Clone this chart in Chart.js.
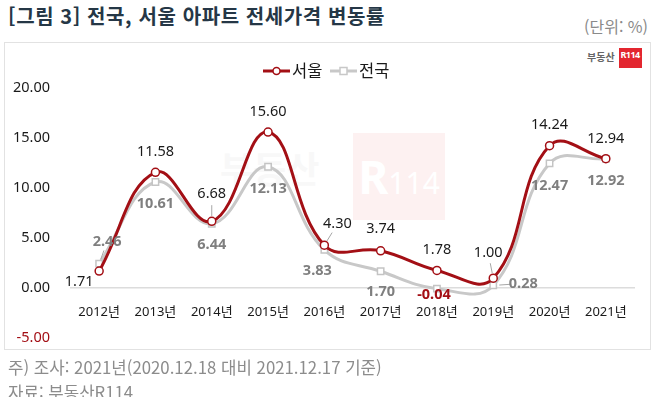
<!DOCTYPE html>
<html lang="ko">
<head>
    <meta charset="UTF-8">
    <script src="https://cdn.jsdelivr.net/npm/chart.js"></script>
    <title>전국, 서울 아파트 전세가격 변동률</title>
    <style>
        body { margin: 0; width: 658px; height: 397px; background: #fff; overflow: hidden;
               font-family: "Noto Sans", "Noto Sans CJK KR", sans-serif; position: relative; }
        .title { position: absolute; left: 8px; top: 1px; font-size: 20px; font-weight: bold; color: #253746;
                 font-family: "Noto Sans CJK KR", sans-serif; letter-spacing: 0.6px; }
        .unit { position: absolute; right: 10px; top: 14px; font-size: 16px; color: #8a8a8a;
                font-family: "Noto Sans CJK KR", sans-serif; }
        .box { position: absolute; left: 4px; top: 42px; width: 645px; height: 306px; border: 1px solid #e2e2e2; }
        .wm { position: absolute; left: 348px; top: 90px; width: 92px; height: 87px; background: #fdf1f1;
              color: #fff; font: bold 46px "Noto Sans", sans-serif; text-align: center; line-height: 87px; }
        .wm span { font-size: 30px; font-weight: normal; }
        .wmtext { position: absolute; left: 215px; top: 98px; font: bold 36px "Noto Sans CJK KR", sans-serif; color: #f8f8f8; }
        .logo { position: absolute; left: 582px; top: 5px; font: bold 10px "Noto Sans CJK KR", sans-serif; color: #666; }
        .logo b { display: inline-block; margin-left: 4px; background: #e3262f; color: #fff; width: 23px; height: 20px;
                  line-height: 20px; text-align: center; font: bold 9px "Noto Sans", sans-serif; letter-spacing: -0.5px;
                  vertical-align: middle; }
        .chartwrap { position: absolute; left: 0; top: 0; width: 645px; height: 317px; }
        .note { position: absolute; left: 8px; font-size: 16.8px; color: #8c8c8c; font-family: "Noto Sans CJK KR", sans-serif; }
    </style>
</head>
<body>
    <div class="title">[그림 3] 전국, 서울 아파트 전세가격 변동률</div>
    <div class="unit">(단위: %)</div>
    <div class="box">
        <div class="wmtext">부동산</div>
        <div class="wm">R<span>114</span></div>
        <div class="logo">부동산<b>R114</b></div>
        <div class="chartwrap"><canvas id="rentChart" width="645" height="317"></canvas></div>
    </div>
    <div class="note" style="top: 355px;">주) 조사: 2021년(2020.12.18 대비 2021.12.17 기준)</div>
    <div class="note" style="top: 380px;">자료: 부동산R114</div>

    <script>
        const years = ["2012년", "2013년", "2014년", "2015년", "2016년", "2017년", "2018년", "2019년", "2020년", "2021년"];
        const seoul = [1.71, 11.58, 6.68, 15.60, 4.30, 3.74, 1.78, 1.00, 14.24, 12.94];
        const national = [2.46, 10.61, 6.44, 12.13, 3.83, 1.70, -0.04, 0.28, 12.47, 12.92];
        const yTicks = [-5, 0, 5, 10, 15, 20];

        // label offsets from each point: [dx, dy, leader line]
        const seoulLabelPos = [[-20, 11, false], [0, -20, false], [0, -27, true], [0, -20, false], [13, -21, true],
                               [0, -22, false], [0, -21, false], [-5, -25, true], [0, -21, false], [0, -20, false]];
        const nationalLabelPos = [[8, -22, true], [0, 22, false], [0, 21, false], [0, 22, false], [-7, 21, false],
                                  [0, 21, false], [-3, 6, false], [30, -2, true], [0, 22, false], [0, 22, false]];

        const RED = "#a30f15";
        const GRAY = "#c8c8c8";

        const pointLabels = {
            id: "pointLabels",
            afterDatasetsDraw(chart) {
                const ctx = chart.ctx;
                const settings = [
                    { pos: seoulLabelPos, values: seoul, font: "14.5px 'Noto Sans', sans-serif", color: "#1a1a1a" },
                    { pos: nationalLabelPos, values: national, font: "bold 14.5px 'Noto Sans', sans-serif", color: "#7f7f7f" }
                ];
                ctx.save();
                ctx.textAlign = "center";
                ctx.textBaseline = "middle";
                settings.forEach((s, di) => {
                    const meta = chart.getDatasetMeta(di);
                    meta.data.forEach((pt, i) => {
                        const [dx, dy, leader] = s.pos[i];
                        if (leader) {
                            ctx.strokeStyle = "#a6a6a6";
                            ctx.lineWidth = 1;
                            ctx.beginPath();
                            ctx.moveTo(pt.x + dx * 0.2, pt.y + dy * 0.2);
                            ctx.lineTo(pt.x + dx * 0.6, pt.y + dy * 0.6);
                            ctx.stroke();
                        }
                        const v = s.values[i];
                        ctx.font = s.font;
                        ctx.fillStyle = v < 0 ? RED : s.color;
                        ctx.fillText(v.toFixed(2), pt.x + dx, pt.y + dy);
                    });
                });
                ctx.restore();
            }
        };

        const customLegend = {
            id: "customLegend",
            afterDraw(chart) {
                const ctx = chart.ctx;
                const items = [
                    { text: "서울", color: RED, x: 258, round: true },
                    { text: "전국", color: GRAY, x: 325, round: false }
                ];
                const y = 28;
                ctx.save();
                items.forEach((it) => {
                    ctx.strokeStyle = it.color;
                    ctx.lineWidth = 3;
                    ctx.beginPath();
                    ctx.moveTo(it.x, y);
                    ctx.lineTo(it.x + 27, y);
                    ctx.stroke();
                    ctx.fillStyle = "#fff";
                    ctx.lineWidth = 1.5;
                    ctx.beginPath();
                    if (it.round) {
                        ctx.arc(it.x + 13.5, y, 3.5, 0, Math.PI * 2);
                    } else {
                        ctx.rect(it.x + 10, y - 3.5, 7, 7);
                    }
                    ctx.fill();
                    ctx.stroke();
                    ctx.fillStyle = "#1a1a1a";
                    ctx.font = "16.5px 'Noto Sans CJK KR', sans-serif";
                    ctx.textBaseline = "middle";
                    ctx.fillText(it.text, it.x + 29, y);
                });
                ctx.restore();
            }
        };

        const ctx = document.getElementById("rentChart").getContext("2d");
        new Chart(ctx, {
            type: "line",
            data: {
                labels: years,
                datasets: [
                    {
                        label: "서울",
                        data: seoul,
                        borderColor: RED,
                        borderWidth: 3,
                        pointStyle: "circle",
                        pointRadius: 4,
                        pointBorderWidth: 1.5,
                        pointBackgroundColor: "#fff",
                        pointBorderColor: RED,
                        tension: 0.42
                    },
                    {
                        label: "전국",
                        data: national,
                        borderColor: GRAY,
                        borderWidth: 3,
                        pointStyle: "rect",
                        pointRadius: 4.5,
                        pointBorderWidth: 1.5,
                        pointBackgroundColor: "#fff",
                        pointBorderColor: "#c4c4c4",
                        tension: 0.42
                    }
                ]
            },
            options: {
                responsive: false,
                animation: false,
                events: [],
                layout: { padding: { top: 45, right: 16, bottom: 1, left: 0 } },
                plugins: {
                    legend: { display: false },
                    tooltip: { enabled: false }
                },
                scales: {
                    x: {
                        position: { y: 0 },
                        offset: true,
                        grid: { display: false },
                        border: { color: "#dcdcdc", width: 1.5 },
                        ticks: {
                            padding: 8,
                            color: "#1a1a1a",
                            font: { family: "'Noto Sans', 'Noto Sans CJK KR', sans-serif", size: 13 },
                            maxRotation: 0
                        },
                        afterFit(scale) { scale.height = 0; }
                    },
                    y: {
                        min: -5,
                        max: 20,
                        grid: { display: false },
                        border: { display: false },
                        afterBuildTicks(scale) { scale.ticks = yTicks.map((v) => ({ value: v })); },
                        afterFit(scale) { scale.width = 66; },
                        ticks: {
                            padding: 13,
                            color: (c) => (c.tick.value < 0 ? RED : "#1a1a1a"),
                            font: { family: "'Noto Sans', sans-serif", size: 14.5 },
                            callback: (v) => v.toFixed(2)
                        }
                    }
                }
            },
            plugins: [pointLabels, customLegend]
        });
    </script>
</body>
</html>
